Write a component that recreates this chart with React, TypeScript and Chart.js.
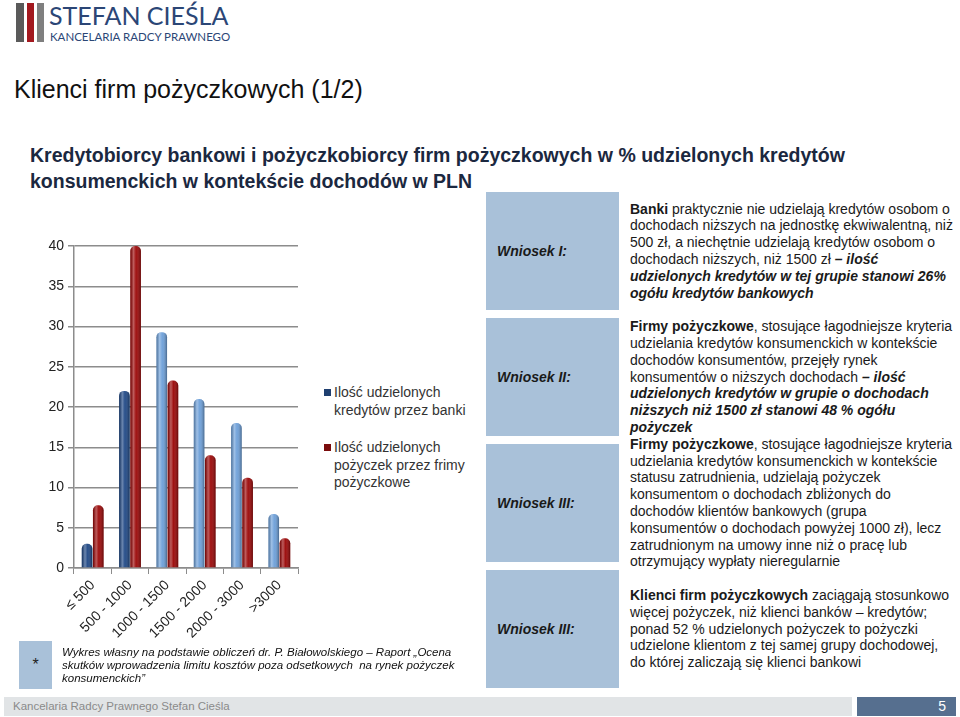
import React, { useEffect, useRef } from "react";
import { Chart, registerables } from "chart.js";

Chart.register(...registerables);

const categories = ["≤ 500", "500 - 1000", "1000 - 1500", "1500 - 2000", "2000 - 3000", ">3000"];
const bankCredits = [3, 22, 29.3, 21, 18, 6.7];
const loanCompanyLoans = [7.8, 40, 23.3, 14, 11.2, 3.7];
const yTicks = [0, 5, 10, 15, 20, 25, 30, 35, 40];
const seriesNames = [
  "Ilość udzielonych kredytów przez banki",
  "Ilość udzielonych pożyczek przez frimy pożyczkowe",
];

const bankColors = ["#1d4684", "#1d4684", "#6c9fd9", "#6c9fd9", "#6c9fd9", "#6c9fd9"];
const loanColor = "#9a0505";

const FONT = "Arial, 'Liberation Sans', sans-serif";

const cylinderPlugin = {
  id: "cylinder",
  afterDatasetsDraw(chart: any) {
    const ctx = chart.ctx;
    chart.data.datasets.forEach((_ds: any, di: number) => {
      const meta = chart.getDatasetMeta(di);
      meta.data.forEach((bar: any) => {
        const { x, y, base, width } = bar.getProps(["x", "y", "base", "width"], true);
        const l = x - width / 2;
        const g = ctx.createLinearGradient(l, 0, l + width, 0);
        g.addColorStop(0, "rgba(0,0,0,0.25)");
        g.addColorStop(0.3, "rgba(255,255,255,0.35)");
        g.addColorStop(0.55, "rgba(255,255,255,0.05)");
        g.addColorStop(1, "rgba(0,0,0,0.35)");
        ctx.save();
        ctx.beginPath();
        const r = Math.min(width / 2, 5);
        (ctx as any).roundRect(l, y, width, base - y, [r, r, 0, 0]);
        ctx.fillStyle = g;
        ctx.fill();
        ctx.restore();
      });
    });
  },
};

function BarChart() {
  const ref = useRef<HTMLCanvasElement | null>(null);
  useEffect(() => {
    if (!ref.current) return;
    const chart = new Chart(ref.current, {
      type: "bar",
      data: {
        labels: categories,
        datasets: [
          {
            label: seriesNames[0],
            data: bankCredits,
            backgroundColor: bankColors,
            borderRadius: { topLeft: 5, topRight: 5, bottomLeft: 0, bottomRight: 0 },
            borderSkipped: false,
            categoryPercentage: 0.6,
            barPercentage: 0.95,
          },
          {
            label: seriesNames[1],
            data: loanCompanyLoans,
            backgroundColor: loanColor,
            borderRadius: { topLeft: 5, topRight: 5, bottomLeft: 0, bottomRight: 0 },
            borderSkipped: false,
            categoryPercentage: 0.6,
            barPercentage: 0.95,
          },
        ],
      },
      options: {
        animation: false,
        responsive: false,
        maintainAspectRatio: false,
        layout: { padding: { top: 18, right: 12, left: 0, bottom: 0 } },
        plugins: { legend: { display: false }, tooltip: { enabled: false } },
        scales: {
          x: {
            grid: { display: true, drawOnChartArea: false, offset: true, color: "#8c8c8c", tickLength: 6 },
            border: { color: "#8c8c8c", width: 1.5 },
            ticks: {
              minRotation: 45,
              maxRotation: 45,
              color: "#222",
              font: { family: FONT, size: 14 },
              padding: 3,
            },
            afterFit: (s: any) => {
              s.height = 82;
            },
          },
          y: {
            min: 0,
            max: 40,
            afterBuildTicks: (s: any) => {
              s.ticks = yTicks.map((v) => ({ value: v }));
            },
            grid: { color: "#8c8c8c", lineWidth: 1.5, tickLength: 6 },
            border: { color: "#8c8c8c", width: 1.5 },
            ticks: { color: "#222", font: { family: FONT, size: 14 }, padding: 4 },
            afterFit: (s: any) => {
              s.width = 74;
            },
          },
        },
      },
      plugins: [cylinderPlugin],
    });
    return () => chart.destroy();
  }, []);
  return (
    <canvas
      ref={ref}
      width={310}
      height={422}
      style={{ position: "absolute", left: 0, top: 228, width: 310, height: 422 }}
    />
  );
}

const boxBlue = "#a9c1d9";
const bi: React.CSSProperties = { fontWeight: "bold", fontStyle: "italic" };

function Row(props: { top: number; height: number; label: string; children: React.ReactNode }) {
  return (
    <div style={{ position: "absolute", left: 486, top: props.top, width: 470, height: props.height }}>
      <div
        style={{
          position: "absolute",
          left: 0,
          top: 0,
          width: 133,
          height: props.height,
          background: boxBlue,
          display: "flex",
          alignItems: "center",
        }}
      >
        <span style={{ marginLeft: 11, fontWeight: "bold", fontStyle: "italic", fontSize: 14, color: "#1a1a1a" }}>
          {props.label}
        </span>
      </div>
      <div
        style={{
          position: "absolute",
          left: 144,
          top: -30,
          height: props.height + 60,
          width: 330,
          display: "flex",
          alignItems: "center",
        }}
      >
        <div style={{ fontSize: 14, lineHeight: "16.8px", color: "#1a1a1a", whiteSpace: "nowrap" }}>
          {props.children}
        </div>
      </div>
    </div>
  );
}

export default function App() {
  useEffect(() => {
    document.body.style.margin = "0";
  }, []);
  return (
    <div
      style={{
        position: "absolute",
        left: 0,
        top: 0,
        width: 960,
        height: 717,
        overflow: "hidden",
        background: "#fff",
        fontFamily: FONT,
      }}
    >
      {/* logo */}
      <div style={{ position: "absolute", left: 16, top: 3, width: 8, height: 39, background: "#5a5a5a" }} />
      <div style={{ position: "absolute", left: 27, top: 3, width: 7, height: 39, background: "#a3191f" }} />
      <div style={{ position: "absolute", left: 37, top: 3, width: 7, height: 39, background: "#7f7f7f" }} />
      <div
        style={{
          position: "absolute",
          left: 49,
          top: 2,
          fontFamily: "Lato, 'Open Sans', sans-serif",
          fontSize: 25,
          lineHeight: "26px",
          color: "#2b4676",
          whiteSpace: "nowrap",
        }}
      >
        STEFAN CIEŚLA
      </div>
      <div
        style={{
          position: "absolute",
          left: 50,
          top: 30,
          fontFamily: "Lato, 'Open Sans', sans-serif",
          fontSize: 11.5,
          lineHeight: "13px",
          color: "#2b4676",
          whiteSpace: "nowrap",
        }}
      >
        KANCELARIA RADCY PRAWNEGO
      </div>

      {/* title */}
      <div style={{ position: "absolute", left: 14, top: 74, fontSize: 25, lineHeight: "30px", color: "#111", whiteSpace: "nowrap" }}>
        Klienci firm pożyczkowych (1/2)
      </div>
      <div
        style={{
          position: "absolute",
          left: 30,
          top: 142,
          fontSize: 19.5,
          lineHeight: "26px",
          fontWeight: "bold",
          color: "#1b2840",
          whiteSpace: "nowrap",
        }}
      >
        Kredytobiorcy bankowi i pożyczkobiorcy firm pożyczkowych w % udzielonych kredytów
        <br />
        konsumenckich w kontekście dochodów w PLN
      </div>

      <BarChart />

      {/* legend */}
      <div style={{ position: "absolute", left: 324, top: 384, fontSize: 14, lineHeight: "17.5px", color: "#333", whiteSpace: "nowrap" }}>
        <div style={{ position: "absolute", left: 0, top: 5, width: 7, height: 7, background: "#1f3f70" }} />
        <div style={{ position: "absolute", left: 10, top: 0 }}>
          Ilość udzielonych
          <br />
          kredytów przez banki
        </div>
        <div style={{ position: "absolute", left: 0, top: 60, width: 7, height: 7, background: "#7a0c0c" }} />
        <div style={{ position: "absolute", left: 10, top: 55 }}>
          Ilość udzielonych
          <br />
          pożyczek przez frimy
          <br />
          pożyczkowe
        </div>
      </div>

      {/* right panel */}
      <Row top={192} height={118} label="Wniosek I:">
        <b>Banki</b> praktycznie nie udzielają kredytów osobom o
        <br />
        dochodach niższych na jednostkę ekwiwalentną, niż
        <br />
        500 zł, a niechętnie udzielają kredytów osobom o
        <br />
        dochodach niższych, niż 1500 zł <span style={bi}>– ilość</span>
        <br />
        <span style={bi}>udzielonych kredytów w tej grupie stanowi 26%</span>
        <br />
        <span style={bi}>ogółu kredytów bankowych</span>
      </Row>
      <Row top={318} height={118} label="Wniosek II:">
        <b>Firmy pożyczkowe</b>, stosujące łagodniejsze kryteria
        <br />
        udzielania kredytów konsumenckich w kontekście
        <br />
        dochodów konsumentów, przejęły rynek
        <br />
        konsumentów o niższych dochodach <span style={bi}>– ilość</span>
        <br />
        <span style={bi}>udzielonych kredytów w grupie o dochodach</span>
        <br />
        <span style={bi}>niższych niż 1500 zł stanowi 48 % ogółu</span>
        <br />
        <span style={bi}>pożyczek</span>
      </Row>
      <Row top={444} height={118} label="Wniosek III:">
        <b>Firmy pożyczkowe</b>, stosujące łagodniejsze kryteria
        <br />
        udzielania kredytów konsumenckich w kontekście
        <br />
        statusu zatrudnienia, udzielają pożyczek
        <br />
        konsumentom o dochodach zbliżonych do
        <br />
        dochodów klientów bankowych (grupa
        <br />
        konsumentów o dochodach powyżej 1000 zł), lecz
        <br />
        zatrudnionym na umowy inne niż o pracę lub
        <br />
        otrzymujący wypłaty nieregularnie
      </Row>
      <Row top={570} height={118} label="Wniosek III:">
        <b>Klienci firm pożyczkowych</b> zaciągają stosunkowo
        <br />
        więcej pożyczek, niż klienci banków – kredytów;
        <br />
        ponad 52 % udzielonych pożyczek to pożyczki
        <br />
        udzielone klientom z tej samej grupy dochodowej,
        <br />
        do której zaliczają się klienci bankowi
      </Row>

      {/* footnote */}
      <div
        style={{
          position: "absolute",
          left: 19,
          top: 641,
          width: 33,
          height: 48,
          background: boxBlue,
          display: "flex",
          alignItems: "center",
          justifyContent: "center",
          fontSize: 16,
          color: "#222",
        }}
      >
        *
      </div>
      <div
        style={{
          position: "absolute",
          left: 62,
          top: 646,
          fontSize: 11.5,
          lineHeight: "13px",
          fontStyle: "italic",
          color: "#111",
          whiteSpace: "nowrap",
        }}
      >
        Wykres własny na podstawie obliczeń dr. P. Białowolskiego – Raport „Ocena
        <br />
        skutków wprowadzenia limitu kosztów poza odsetkowych&nbsp; na rynek pożyczek
        <br />
        konsumenckich”
      </div>

      {/* footer */}
      <div
        style={{
          position: "absolute",
          left: 4,
          top: 697,
          width: 848,
          height: 19,
          background: "#e1e4e6",
          color: "#8a8a8a",
          fontSize: 11.5,
          lineHeight: "19px",
          whiteSpace: "nowrap",
        }}
      >
        <span style={{ marginLeft: 9 }}>Kancelaria Radcy Prawnego Stefan Cieśla</span>
      </div>
      <div
        style={{
          position: "absolute",
          left: 857,
          top: 697,
          width: 99,
          height: 19,
          background: "#566f8f",
          color: "#fff",
          fontSize: 14,
          lineHeight: "19px",
          textAlign: "right",
        }}
      >
        <span style={{ marginRight: 10 }}>5</span>
      </div>
    </div>
  );
}
